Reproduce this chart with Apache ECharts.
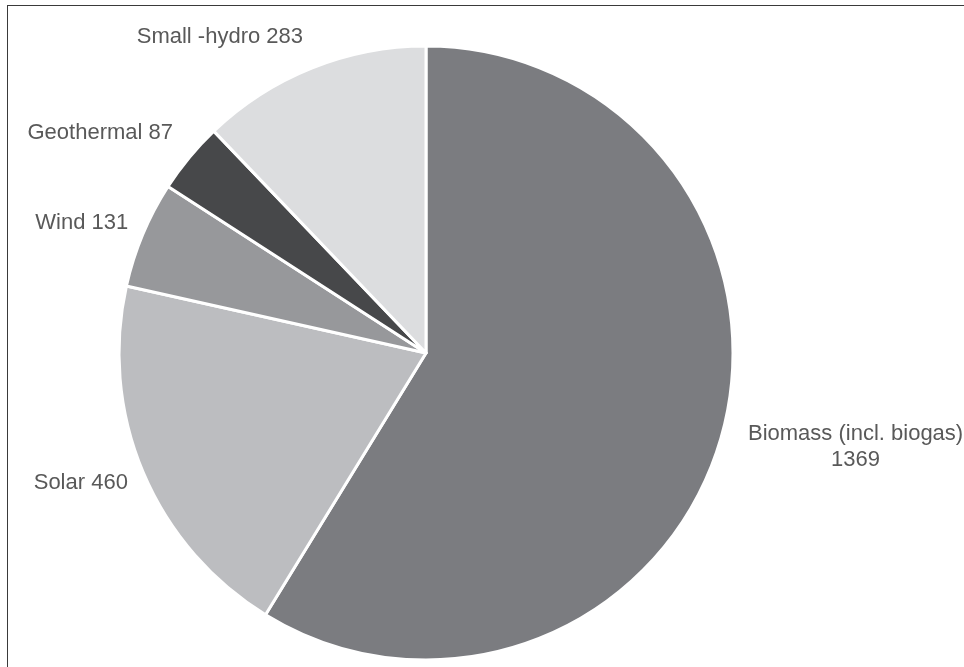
<!DOCTYPE html>
<html>
<head>
<meta charset="utf-8">
<script src="https://cdn.jsdelivr.net/npm/echarts@6/dist/echarts.min.js"></script>
<style>
  html, body { margin: 0; padding: 0; background: #fff; }
  #frame { position: absolute; left: 7px; top: 5px; width: 957px; height: 662px;
           border-top: 1.5px solid #3a3a3a; border-left: 1.5px solid #3a3a3a; box-sizing: border-box; }
  #chart { position: absolute; left: 0; top: 0; width: 964px; height: 667px; }
</style>
</head>
<body>
<div id="frame"></div>
<div id="chart"></div>
<script>
// Data
const categories = ['Biomass (incl. biogas)', 'Solar', 'Wind', 'Geothermal', 'Small -hydro'];
const values = [1369, 460, 131, 87, 283];

// Styles (not data)
const colors = ['#7b7c80', '#bcbdc0', '#97989b', '#47484a', '#dcdddf'];
const labelLines = {
  'Biomass (incl. biogas)': [39, -11],
  'Solar': [26.5, -9],
  'Wind': [31, -14],
  'Geothermal': [38, -13],
  'Small -hydro': [34, -4]
};
const FONT = 'Liberation Sans, Arial, sans-serif';

const chart = echarts.init(document.getElementById('chart'));
const seriesData = categories.map((name, i) => ({
  name: name,
  value: values[i],
  itemStyle: { color: colors[i] },
  labelLine: { show: false, length: labelLines[name][0], length2: labelLines[name][1] }
}));

chart.setOption({
  animation: false,
  series: [{
    type: 'pie',
    center: [426, 353],
    radius: 307,
    startAngle: 90,
    clockwise: true,
    avoidLabelOverlap: false,
    itemStyle: { borderColor: '#ffffff', borderWidth: 3 },
    label: {
      show: true,
      position: 'outside',
      distanceToLabelLine: 0,
      fontFamily: FONT,
      fontSize: 22,
      color: '#595959',
      lineHeight: 26,
      formatter: function (p) {
        if (p.name.length > 15) {
          return '{n|' + p.name + '}\n{v|' + p.value + '}';
        }
        return p.name + ' ' + p.value;
      },
      rich: {
        n: { fontFamily: FONT, fontSize: 22, color: '#595959', lineHeight: 26 },
        v: { fontFamily: FONT, fontSize: 22, color: '#595959', lineHeight: 26, align: 'center' }
      }
    },
    labelLine: { show: false },
    emphasis: { disabled: true },
    data: seriesData
  }]
});
</script>
</body>
</html>
